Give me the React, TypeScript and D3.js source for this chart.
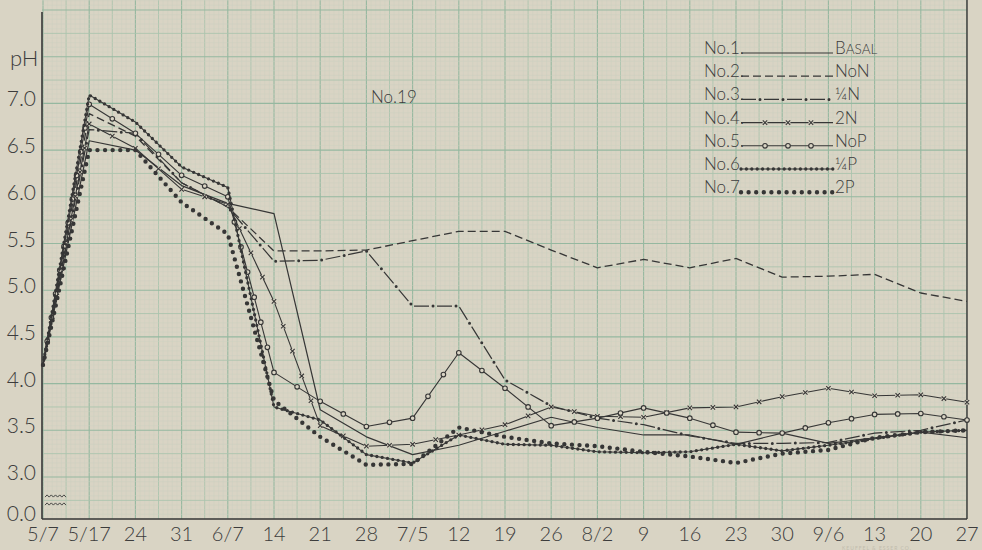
import React, { useEffect, useRef } from "react";
import * as d3 from "d3";

const dates = ["5/7", "5/17", "24", "31", "6/7", "14", "21", "28", "7/5", "12", "19", "26", "8/2", "9", "16", "23", "30", "9/6", "13", "20", "27"];
const yTickValues = [7.0, 6.5, 6.0, 5.5, 5.0, 4.5, 4.0, 3.5, 3.0];
const seriesLabels = ["No.1.", "No.2.", "No.3.", "No.4.", "No.5.", "No.6", "No.7."];
const treatmentLabels = ["BASAL", "NoN", "¼N", "2N", "NoP", "¼P", "2P"];

const no1 = [4.2, 6.6, 6.5, 6.12, 5.93, 5.82, 3.72, 3.43, 3.24, 3.34, 3.49, 3.64, 3.53, 3.45, 3.45, 3.35, 3.47, 3.36, 3.42, 3.48, 3.42];
const no2 = [4.2, 6.89, 6.65, 6.15, 5.89, 5.42, 5.42, 5.43, 5.53, 5.63, 5.63, 5.43, 5.24, 5.33, 5.24, 5.34, 5.14, 5.15, 5.17, 4.97, 4.88];
const no3 = [4.2, 6.72, 6.68, 6.15, 5.89, 5.31, 5.32, 5.42, 4.83, 4.83, 4.04, 3.76, 3.63, 3.56, 3.44, 3.36, 3.36, 3.37, 3.47, 3.5, 3.61];
const no4 = [4.2, 6.78, 6.52, 6.08, 5.92, 4.88, 3.55, 3.33, 3.35, 3.45, 3.56, 3.75, 3.65, 3.64, 3.74, 3.75, 3.86, 3.95, 3.87, 3.88, 3.8];
const no5 = [4.2, 6.99, 6.68, 6.23, 6.0, 4.12, 3.81, 3.54, 3.63, 4.33, 3.95, 3.55, 3.63, 3.74, 3.63, 3.48, 3.47, 3.58, 3.67, 3.68, 3.61];
const no6 = [4.2, 7.09, 6.8, 6.32, 6.1, 3.75, 3.61, 3.24, 3.15, 3.45, 3.35, 3.34, 3.27, 3.26, 3.27, 3.35, 3.28, 3.34, 3.41, 3.48, 3.5];
const no7 = [4.2, 6.5, 6.5, 5.94, 5.6, 3.82, 3.43, 3.13, 3.14, 3.53, 3.43, 3.36, 3.33, 3.27, 3.22, 3.15, 3.25, 3.29, 3.42, 3.48, 3.5];

const allSeries = [no1, no2, no3, no4, no5, no6, no7];
const kinds = ["solid", "dashed", "dashdot", "x", "o", "dotline", "dots"];

const PAPER = "#d9d4c4";
const INK = "#363636";
const TEXT = "#3c3c3c";
const FONT = "Lato, 'Open Sans', 'DejaVu Sans', sans-serif";

export default function App() {
  const ref = useRef<SVGSVGElement>(null);

  useEffect(() => {
    const svg = d3.select(ref.current);
    svg.selectAll("*").remove();
    const W = 982, H = 550;
    const left = 42, right = 967, bottom = 519, top = 12;

    const x = d3.scaleLinear().domain([0, dates.length - 1]).range([43, 967]);
    const y = d3.scaleLinear().domain([3, 8]).range([477, 10]);

    svg.append("rect").attr("width", W).attr("height", H).attr("fill", PAPER);

    // graph paper grid
    const defs = svg.append("defs");
    defs.append("clipPath").attr("id", "plotclip")
      .append("rect").attr("x", left).attr("y", 0).attr("width", right - left).attr("height", bottom);
    const grid = svg.append("g").attr("clip-path", "url(#plotclip)");
    const styleFor = (kk: number) =>
      kk === 0 ? { c: "#95b8a0", w: 1.1 } : kk === 5 ? { c: "#abc4ae", w: 0.9 } : { c: "#ccd0c1", w: 0.45 };
    for (let k = -2; k <= 210; k++) {
      const xv = x(k / 10);
      if (xv < left - 1 || xv > right + 1) continue;
      const kk = ((k % 10) + 10) % 10;
      const s = styleFor(kk === 0 ? 0 : kk === 5 ? 5 : 1);
      grid.append("line").attr("x1", xv).attr("x2", xv).attr("y1", 0).attr("y2", bottom)
        .attr("stroke", s.c).attr("stroke-width", s.w);
    }
    for (let k = -10; k <= 105; k++) {
      const yv = y(3 + k * 0.05);
      if (yv < -2 || yv > bottom + 1) continue;
      const kk = ((k % 10) + 10) % 10;
      const s = styleFor(kk === 0 ? 0 : kk === 5 ? 5 : 1);
      grid.append("line").attr("x1", left).attr("x2", right).attr("y1", yv).attr("y2", yv)
        .attr("stroke", s.c).attr("stroke-width", s.w);
    }

    // frame
    svg.append("line").attr("x1", left).attr("x2", left).attr("y1", top).attr("y2", bottom)
      .attr("stroke", INK).attr("stroke-width", 1.6);
    svg.append("line").attr("x1", left).attr("x2", right).attr("y1", bottom).attr("y2", bottom)
      .attr("stroke", INK).attr("stroke-width", 1.6);
    svg.append("line").attr("x1", right).attr("x2", right).attr("y1", 0).attr("y2", bottom)
      .attr("stroke", INK).attr("stroke-width", 1.4);

    // broken-axis squiggles
    [496, 504].forEach((yy) => {
      const pts: [number, number][] = [];
      for (let i = 0; i <= 10; i++) pts.push([45 + i * 2.1, yy + (i % 2 === 0 ? 1.1 : -1.1)]);
      svg.append("path").attr("d", d3.line()(pts) as string).attr("fill", "none")
        .attr("stroke", INK).attr("stroke-width", 0.9);
    });

    // y tick labels
    const txt = svg.append("g").attr("font-family", FONT).attr("font-weight", 300).attr("fill", TEXT);
    yTickValues.forEach((v) => {
      txt.append("text").attr("x", 36).attr("y", y(v) + 3).attr("text-anchor", "end")
        .attr("font-size", 21).text(v.toFixed(1));
    });
    txt.append("text").attr("x", 36).attr("y", 521).attr("text-anchor", "end").attr("font-size", 21).text("0.0");
    txt.append("text").attr("x", 10).attr("y", 66).attr("font-size", 22).text("pH");

    // x tick labels
    dates.forEach((d, i) => {
      txt.append("text").attr("x", x(i)).attr("y", 541).attr("text-anchor", "middle")
        .attr("font-size", 20).text(d);
    });

    txt.append("text").attr("x", 371).attr("y", 103).attr("font-size", 17).text("No.19");

    // faint maker's imprint
    svg.append("text").attr("x", 842).attr("y", 550).attr("font-family", FONT).attr("font-size", 5)
      .attr("fill", "#c2bcad").attr("letter-spacing", 1).text("KEUFFEL & ESSER CO.");

    const drawStyled = (g: any, d: string, kind: string, markerPts: [number, number][]) => {
      const base = () => g.append("path").attr("d", d).attr("fill", "none").attr("stroke", INK)
        .attr("stroke-linejoin", "round");
      if (kind === "solid") base().attr("stroke-width", 1.2);
      if (kind === "dashed") base().attr("stroke-width", 1.3).attr("stroke-dasharray", "8 4");
      if (kind === "dashdot") {
        base().attr("stroke-width", 1.2).attr("stroke-dasharray", "15 8");
        base().attr("stroke-width", 3).attr("stroke-linecap", "round")
          .attr("stroke-dasharray", "0 23").attr("stroke-dashoffset", -19);
      }
      if (kind === "x" || kind === "o") {
        base().attr("stroke-width", 1.1);
        markerPts.forEach(([px, py]) => {
          if (kind === "x") {
            g.append("circle").attr("cx", px).attr("cy", py).attr("r", 2.4).attr("fill", PAPER);
            g.append("path").attr("d", `M${px - 2.2},${py - 2.2}L${px + 2.2},${py + 2.2}M${px - 2.2},${py + 2.2}L${px + 2.2},${py - 2.2}`)
              .attr("stroke", INK).attr("stroke-width", 1.1);
          } else {
            g.append("circle").attr("cx", px).attr("cy", py).attr("r", 2.3).attr("fill", PAPER)
              .attr("stroke", INK).attr("stroke-width", 1.1);
          }
        });
      }
      if (kind === "dotline") {
        base().attr("stroke-width", 1.1);
        base().attr("stroke-width", 3.3).attr("stroke-linecap", "round").attr("stroke-dasharray", "0 5.4");
      }
      if (kind === "dots") {
        base().attr("stroke-width", 4.4).attr("stroke-linecap", "round").attr("stroke-dasharray", "0 7.6");
      }
    };

    const markerPoints = (data: number[]) => {
      const pts: [number, number][] = [];
      for (let i = 0; i < data.length - 1; i++) {
        const x0 = x(i), y0 = y(data[i]), x1 = x(i + 1), y1 = y(data[i + 1]);
        const len = Math.hypot(x1 - x0, y1 - y0);
        const n = Math.max(1, Math.round(len / 25));
        for (let k = 0; k < n; k++) {
          const t = k / n;
          pts.push([x0 + (x1 - x0) * t, y0 + (y1 - y0) * t]);
        }
      }
      const last = data.length - 1;
      pts.push([x(last), y(data[last])]);
      return pts.slice(1);
    };

    const plot = svg.append("g");
    allSeries.forEach((data, si) => {
      const kind = kinds[si];
      const lineGen = d3.line<number>().x((_, i) => x(i)).y((v) => y(v)).curve(d3.curveLinear);
      drawStyled(plot, lineGen(data) as string, kind, markerPoints(data));
    });

    // legend
    const leg = svg.append("g");
    seriesLabels.forEach((lab, r) => {
      const cy = 48 + r * 23.2;
      leg.append("text").attr("x", 704).attr("y", cy + 6).attr("font-family", FONT).attr("font-weight", 300)
        .attr("font-size", 17).attr("fill", TEXT).text(lab);
      const ly = cy + 5;
      const d = d3.line()([[741, ly], [833, ly]]) as string;
      const mk: [number, number][] = [765, 788, 811].map((mx) => [mx, ly]);
      drawStyled(leg, d, kinds[r], mk);
      const t = leg.append("text").attr("x", 835).attr("y", cy + 6).attr("font-family", FONT)
        .attr("font-weight", 300).attr("font-size", 17).attr("fill", TEXT);
      const lbl = treatmentLabels[r];
      if (lbl === "BASAL") {
        t.append("tspan").text("B");
        t.append("tspan").attr("font-size", 13.5).text("ASAL");
      } else {
        t.text(lbl);
      }
    });
  }, []);

  return (
    <svg
      ref={ref}
      width={982}
      height={550}
      style={{ position: "absolute", left: 0, top: 0, display: "block" }}
    />
  );
}
